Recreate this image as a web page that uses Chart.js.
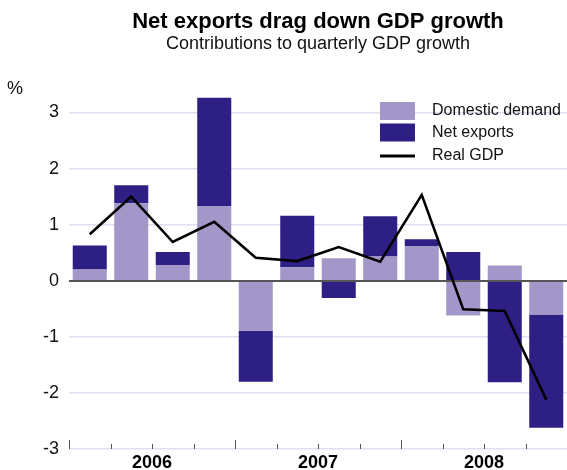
<!DOCTYPE html>
<html>
<head>
<meta charset="utf-8">
<script src="https://cdn.jsdelivr.net/npm/chart.js@4/dist/chart.umd.min.js"></script>
<style>
  html, body { margin: 0; padding: 0; background: #ffffff; }
  #wrap { width: 567px; height: 470px; }
</style>
</head>
<body>
<div id="wrap"><canvas id="chart" width="567" height="470"></canvas></div>
<script>
// Quarterly contributions to GDP growth, 2006–2008 (per cent)
const quarters = ['Mar 2006', 'Jun 2006', 'Sep 2006', 'Dec 2006',
                  'Mar 2007', 'Jun 2007', 'Sep 2007', 'Dec 2007',
                  'Mar 2008', 'Jun 2008', 'Sep 2008', 'Dec 2008'];
const years = ['2006', '2007', '2008'];
const domesticDemand = [0.20, 1.38, 0.28, 1.33, -0.89, 0.24, 0.40, 0.43, 0.62, -0.62, 0.27, -0.60];
const netExports     = [0.43, 0.32, 0.23, 1.93, -0.91, 0.92, -0.31, 0.72, 0.12, 0.51, -1.81, -2.02];
const realGDP        = [0.83, 1.50, 0.69, 1.05, 0.41, 0.35, 0.60, 0.34, 1.53, -0.51, -0.54, -2.12];
const yTicks = [-3, -2, -1, 0, 1, 2, 3];

const FONT = '"Liberation Sans", Arial, Helvetica, sans-serif';
const COL_DOM = '#a396c8';
const COL_NET = '#2e1f85';
const COL_GRID = '#e2def0';
const COL_ZERO = '#555555';

// Zero line over the bars, quarter tick marks, legend and unit label
const decorations = {
  id: 'decorations',
  beforeDatasetDraw(chart, args) {
    if (chart.data.datasets[args.index].type !== 'line') return;
    const { ctx, chartArea } = chart;
    const y0 = Math.round(chart.scales.y.getPixelForValue(0)) + 0.5;
    ctx.save();
    ctx.strokeStyle = COL_ZERO;
    ctx.lineWidth = 1;
    ctx.beginPath();
    ctx.moveTo(chartArea.left, y0);
    ctx.lineTo(chartArea.right, y0);
    ctx.stroke();
    ctx.restore();
  },
  afterDraw(chart) {
    const { ctx, chartArea } = chart;
    const xs = chart.scales.x;
    const n = chart.data.labels.length;
    const step = xs.width / n;
    const yb = chartArea.bottom;
    ctx.save();
    // quarter boundary ticks, taller at year boundaries
    ctx.strokeStyle = '#555555';
    ctx.lineWidth = 1;
    for (let i = 0; i <= n; i++) {
      const x = Math.round(xs.left + i * step) + 0.5;
      const len = (i % 4 === 0) ? 9 : 5;
      ctx.beginPath();
      ctx.moveTo(x, yb);
      ctx.lineTo(x, yb - len);
      ctx.stroke();
    }
    // unit label
    ctx.fillStyle = '#111111';
    ctx.font = '18px ' + FONT;
    ctx.textAlign = 'left';
    ctx.textBaseline = 'middle';
    ctx.fillText('%', 7, 89);
    // legend
    const lx = 380, ly = 102, rowH = 21.5;
    ctx.font = '16px ' + FONT;
    chart.data.datasets.forEach((ds, i) => {
      const cy = ly + i * rowH + 9;
      if (ds.type === 'line') {
        ctx.strokeStyle = ds.borderColor;
        ctx.lineWidth = 3;
        ctx.beginPath();
        ctx.moveTo(lx, cy + 2);
        ctx.lineTo(lx + 35, cy + 2);
        ctx.stroke();
      } else {
        ctx.fillStyle = ds.backgroundColor;
        ctx.fillRect(lx, cy - 9, 35, 18);
      }
      ctx.fillStyle = '#111111';
      ctx.fillText(ds.label, 432, cy + (ds.type === 'line' ? 2 : 0));
    });
    ctx.restore();
  }
};

new Chart(document.getElementById('chart'), {
  data: {
    labels: quarters,
    datasets: [
      { type: 'bar', label: 'Domestic demand', data: domesticDemand,
        backgroundColor: COL_DOM, stack: 'contrib', order: 1,
        barPercentage: 0.82, categoryPercentage: 1.0 },
      { type: 'bar', label: 'Net exports', data: netExports,
        backgroundColor: COL_NET, stack: 'contrib', order: 1,
        barPercentage: 0.82, categoryPercentage: 1.0 },
      { type: 'line', label: 'Real GDP', data: realGDP,
        borderColor: '#000000', borderWidth: 2.6, pointRadius: 0,
        tension: 0, fill: false, stack: 'gdp', order: 0 }
    ]
  },
  options: {
    responsive: false,
    animation: false,
    events: [],
    layout: { padding: { left: 0, right: 0, top: 0, bottom: 0 } },
    plugins: {
      legend: { display: false },
      tooltip: { enabled: false },
      title: {
        display: true, fullSize: false,
        text: 'Net exports drag down GDP growth',
        color: '#000000',
        font: { family: FONT, size: 22, weight: 'bold', lineHeight: 1.2 },
        padding: { top: 9, bottom: 0 }
      },
      subtitle: {
        display: true, fullSize: false,
        text: 'Contributions to quarterly GDP growth',
        color: '#111111',
        font: { family: FONT, size: 18, lineHeight: 1.0 },
        padding: { top: 0, bottom: 31 }
      }
    },
    scales: {
      x: {
        type: 'category', stacked: true, offset: true, display: false
      },
      years: {
        type: 'category', labels: years, position: 'bottom', offset: true,
        grid: { display: false, drawTicks: false },
        border: { display: false },
        ticks: { color: '#000000', font: { family: FONT, size: 18, weight: 'bold' },
                 padding: 3, maxRotation: 0, autoSkip: false },
        afterFit(scale) { scale.height = 21; }
      },
      y: {
        stacked: true, min: -3, max: 3.5,
        afterBuildTicks(scale) { scale.ticks = yTicks.map(v => ({ value: v })); },
        afterFit(scale) { scale.width = 69; },
        grid: {
          color: (c) => (c.tick && c.tick.value === 0) ? COL_ZERO : COL_GRID,
          lineWidth: 1.5, drawTicks: false
        },
        border: { display: false },
        ticks: { color: '#111111', font: { family: FONT, size: 18 }, padding: 10 }
      }
    }
  },
  plugins: [decorations]
});
</script>
</body>
</html>
